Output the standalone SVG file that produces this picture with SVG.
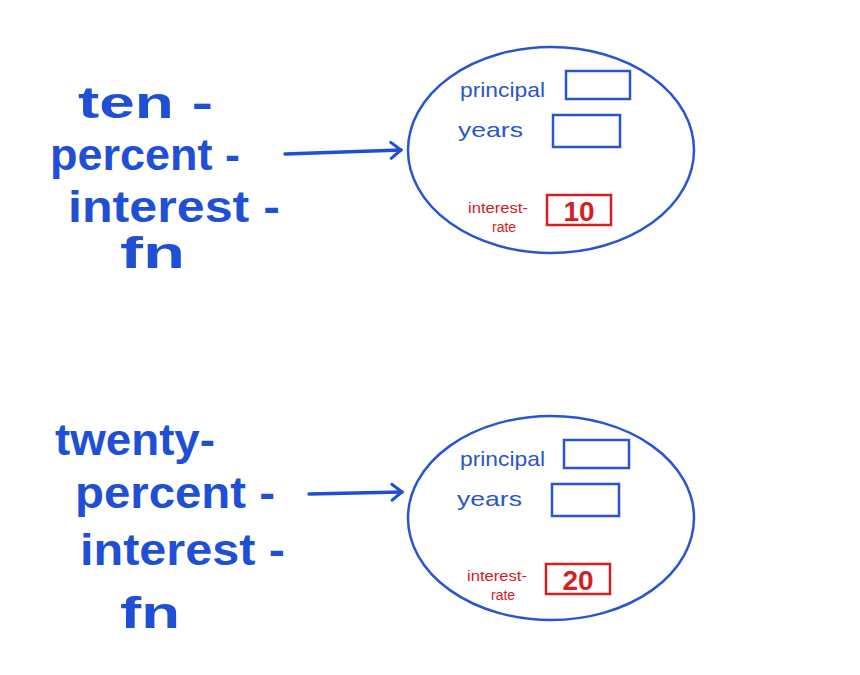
<svg xmlns="http://www.w3.org/2000/svg" width="860" height="675" viewBox="0 0 860 675">
<style>
.big{font-family:"Liberation Sans",Arial,sans-serif;font-size:45px;font-weight:bold;fill:#1f4fd4}
.lbl{font-family:"Liberation Sans",Arial,sans-serif;font-size:21px;fill:#2a55d0}
.red{font-family:"Liberation Sans",Arial,sans-serif;font-size:14px;fill:#d42020}
.num{font-family:"Liberation Sans",Arial,sans-serif;font-size:28px;font-weight:bold;fill:#d42020}
.ell{fill:none;stroke:#2a55d0;stroke-width:2.5}
.box{fill:none;stroke:#2a55d0;stroke-width:2.5}
.rbox{fill:none;stroke:#d42020;stroke-width:2.5}
.edge{fill:none;stroke:#1f4fd4;stroke-width:3.5;stroke-linecap:round;stroke-linejoin:round}
</style>
<defs>
<marker id="arr" viewBox="0 0 14 20" refX="12" refY="10" markerWidth="14" markerHeight="20" markerUnits="userSpaceOnUse" orient="auto">
<path d="M2,2 L12,10 L2,18" fill="none" stroke="#1f4fd4" stroke-width="3" stroke-linecap="round" stroke-linejoin="round"/>
</marker>
</defs>
<rect width="860" height="675" fill="#fff"/>
<g id="name1">
<text class="big" x="78" y="118" textLength="135" lengthAdjust="spacingAndGlyphs">ten -</text>
<text class="big" x="50" y="170" textLength="190" lengthAdjust="spacingAndGlyphs">percent -</text>
<text class="big" x="68" y="222" textLength="212" lengthAdjust="spacingAndGlyphs">interest -</text>
<text class="big" x="120" y="268" textLength="65" lengthAdjust="spacingAndGlyphs">fn</text>
</g>
<g id="name2">
<text class="big" x="55" y="455" textLength="160" lengthAdjust="spacingAndGlyphs">twenty-</text>
<text class="big" x="75" y="508" textLength="200" lengthAdjust="spacingAndGlyphs">percent -</text>
<text class="big" x="80" y="565" textLength="205" lengthAdjust="spacingAndGlyphs">interest -</text>
<text class="big" x="120" y="628" textLength="60" lengthAdjust="spacingAndGlyphs">fn</text>
</g>
<g id="env1">
<ellipse class="ell" cx="551" cy="150" rx="143" ry="103"/>
<text class="lbl" x="460" y="97" textLength="85" lengthAdjust="spacingAndGlyphs">principal</text>
<rect class="box" x="566" y="71" width="64" height="28"/>
<text class="lbl" x="458" y="137" textLength="65" lengthAdjust="spacingAndGlyphs">years</text>
<rect class="box" x="553" y="115" width="67" height="32"/>
<text class="red" x="468" y="213" textLength="60" lengthAdjust="spacingAndGlyphs">interest-</text>
<text class="red" x="492" y="232">rate</text>
<rect class="rbox" x="547" y="195" width="64" height="30"/>
<text class="num" x="579" y="221" text-anchor="middle">10</text>
</g>
<g id="env2">
<ellipse class="ell" cx="551" cy="518" rx="143" ry="102"/>
<text class="lbl" x="460" y="466" textLength="85" lengthAdjust="spacingAndGlyphs">principal</text>
<rect class="box" x="564" y="440" width="65" height="28"/>
<text class="lbl" x="457" y="506" textLength="65" lengthAdjust="spacingAndGlyphs">years</text>
<rect class="box" x="552" y="484" width="67" height="32"/>
<text class="red" x="467" y="581" textLength="60" lengthAdjust="spacingAndGlyphs">interest-</text>
<text class="red" x="491" y="600">rate</text>
<rect class="rbox" x="546" y="564" width="64" height="30"/>
<text class="num" x="578" y="590" text-anchor="middle">20</text>
</g>
<g id="connectors">
<path class="edge" d="M285,154 Q340,152 401,150" marker-end="url(#arr)"/>
<path class="edge" d="M309,494 Q355,493 402,492" marker-end="url(#arr)"/>
</g>
</svg>
